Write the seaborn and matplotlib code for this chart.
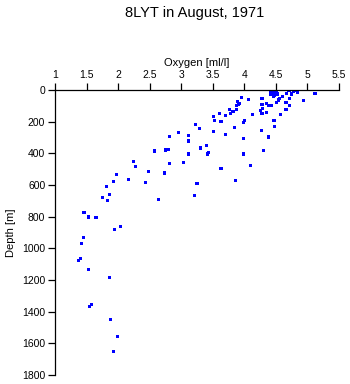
import matplotlib
matplotlib.use("Agg")
import matplotlib.pyplot as plt
import seaborn as sns
import pandas as pd

title = "8LYT in August, 1971"
x_label = "Oxygen [ml/l]"
y_label = "Depth [m]"
x_ticks = [1, 1.5, 2, 2.5, 3, 3.5, 4, 4.5, 5, 5.5]
x_tick_labels = ["1", "1.5", "2", "2.5", "3", "3.5", "4", "4.5", "5", "5.5"]
y_ticks = [0, 200, 400, 600, 800, 1000, 1200, 1400, 1600, 1800]

oxygen = [
    4.41, 4.43, 4.46, 4.49, 4.51, 4.45, 4.46, 4.52, 4.56, 4.54, 4.51,
    4.47, 4.50, 4.44, 4.48, 4.53, 4.42, 4.49,
    4.70, 4.72, 4.78, 4.80, 4.84, 4.67, 4.75, 4.61, 4.71, 4.66, 4.72,
    5.12, 4.94,
    4.28, 4.06, 3.95, 3.89, 3.93, 3.91, 3.87, 3.88, 3.82, 3.78, 3.76,
    3.61, 3.51, 3.53, 3.63, 3.70,
    4.28, 4.29, 4.26, 4.28, 4.35, 4.39, 4.43, 4.35, 4.13, 4.57, 4.66,
    4.47, 4.48, 4.39, 4.31, 4.00, 3.98, 3.84, 3.98, 3.70, 3.51, 3.98,
    4.10, 3.63, 3.86, 4.27,
    3.22, 3.29, 2.95, 3.11, 3.11, 2.81, 2.79, 2.75, 2.57, 3.30, 3.40,
    3.43, 3.41, 3.11, 3.03, 2.81, 2.48, 2.24, 2.28, 2.73, 2.43, 2.17,
    3.25, 3.21, 2.64,
    1.97, 1.92, 1.81, 1.86, 1.75, 1.83, 1.46, 1.53, 1.65,
    1.94, 2.04, 1.45, 1.42, 1.41, 1.37, 1.53, 1.86, 1.55, 1.58, 1.88,
    1.99, 1.92,
]
depth = [
    4, 10, 0, 21, 4, 31, 42, 31, 52, 63, 80,
    10, 15, 20, 35, 25, 25, 8,
    0, 4, 10, 0, 17, 21, 25, 42, 52, 77, 100,
    21, 69,
    52, 59, 46, 73, 84, 94, 100, 121, 136, 147, 121,
    147, 168, 193, 199, 163,
    94, 115, 130, 147, 84, 100, 98, 140, 153, 157, 121,
    191, 228, 297, 383, 191, 205, 235, 304, 281, 260, 404,
    477, 498, 572, 253,
    216, 241, 266, 285, 322, 291, 373, 379, 385, 366, 348,
    392, 404, 404, 456, 467, 517, 452, 484, 524, 584, 563,
    593, 668, 689,
    534, 580, 611, 662, 681, 699, 773, 802, 808,
    882, 863, 934, 970, 1062, 1075, 1133, 1183, 1365, 1357, 1447,
    1558, 1654,
]

df = pd.DataFrame({"oxygen": oxygen, "depth": depth})

sns.set_style("ticks")
plt.rcParams["font.family"] = ["Liberation Sans", "DejaVu Sans"]

fig = plt.figure(figsize=(3.5, 3.84), dpi=100)
ax = fig.add_axes([55 / 350, 1 - 375 / 384, (339 - 55) / 350, (375 - 90) / 384])

sns.scatterplot(data=df, x="oxygen", y="depth", ax=ax, marker="s",
                color="#0000ff", s=5, linewidth=0, edgecolor="none")

ax.set_xlim(1, 5.5)
ax.set_ylim(1800, 0)
ax.xaxis.tick_top()
ax.xaxis.set_label_position("top")
ax.set_xticks(x_ticks)
ax.set_xticklabels(x_tick_labels)
ax.set_yticks(y_ticks)
ax.tick_params(axis="both", labelsize=7.5, length=5, width=0.9, color="black",
               labelcolor="black", pad=2)
ax.set_xlabel(x_label, fontsize=8, labelpad=3, color="black")
ax.set_ylabel(y_label, fontsize=8, labelpad=4, color="black")
for side in ["right", "bottom"]:
    ax.spines[side].set_visible(False)
for side in ["left", "top"]:
    ax.spines[side].set_color("black")
    ax.spines[side].set_linewidth(0.9)

fig.text(195 / 350, 1 - 13 / 384, title, ha="center", va="center",
         fontsize=10.5, color="black")

fig.savefig("out.png", dpi=100, facecolor="white")
